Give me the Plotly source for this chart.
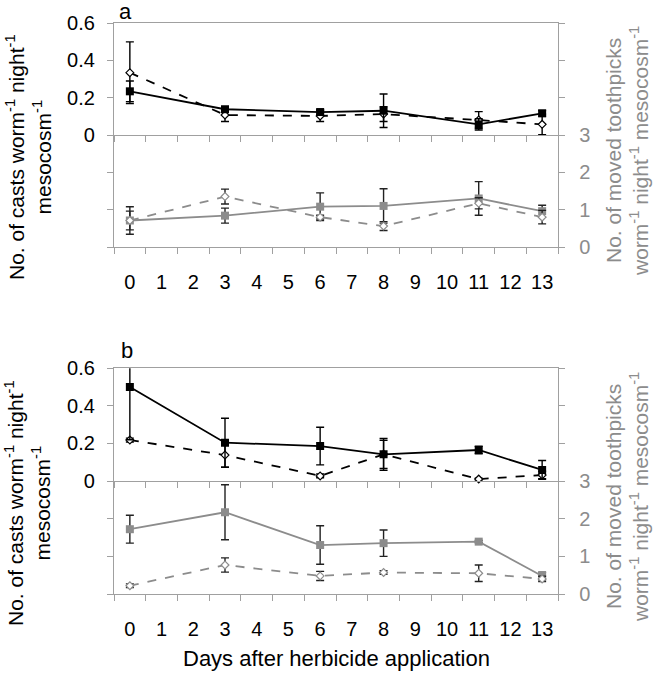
import plotly.graph_objects as go

# ---------------- data ----------------
days = ["0", "3", "6", "8", "11", "13"]
all_days = [str(d) for d in range(14)]

a_casts_ctrl = [0.234, 0.138, 0.123, 0.130, 0.057, 0.116]
a_casts_ctrl_err = [0.055, 0.012, 0.012, 0.090, 0.030, 0.015]
a_casts_herb = [0.334, 0.107, 0.102, 0.112, 0.080, 0.057]
a_casts_herb_err = [0.165, 0.035, 0.030, 0.040, 0.045, 0.055]
a_tooth_ctrl = [0.71, 0.84, 1.08, 1.10, 1.30, 0.96]
a_tooth_ctrl_err = [0.37, 0.20, 0.37, 0.46, 0.45, 0.16]
a_tooth_herb = [0.71, 1.35, 0.80, 0.56, 1.17, 0.80]
a_tooth_herb_err = [0.25, 0.20, 0.05, 0.12, 0.15, 0.18]

b_casts_ctrl = [0.500, 0.204, 0.186, 0.142, 0.165, 0.059]
b_casts_ctrl_err = [0.280, 0.130, 0.100, 0.085, 0.020, 0.050]
b_casts_herb = [0.218, 0.138, 0.027, 0.142, 0.010, 0.032]
b_casts_herb_err = [0.010, 0.065, 0.010, 0.075, 0.005, 0.020]
b_tooth_ctrl = [1.72, 2.17, 1.30, 1.35, 1.39, 0.48]
b_tooth_ctrl_err = [0.37, 0.73, 0.51, 0.35, 0.03, 0.10]
b_tooth_herb = [0.22, 0.77, 0.48, 0.57, 0.55, 0.40]
b_tooth_herb_err = [0.05, 0.19, 0.12, 0.05, 0.22, 0.07]

casts_tickvals = [0, 0.2, 0.4, 0.6]
casts_ticktext = ["0", "0.2", "0.4", "0.6"]
tooth_tickvals = [0, 1, 2, 3]
tooth_ticktext = ["0", "1", "2", "3"]

# ---------------- style ----------------
W, H = 658, 674
FONT = "Liberation Sans, Arial, sans-serif"
AXC = "#a0a0a0"
GRAY = "#8c8c8c"
XD = [114 / W, 558 / W]
A_TOP = [1 - 135 / H, 1 - 23 / H]
A_BOT = [1 - 247 / H, 1 - 135 / H]
B_TOP = [1 - 481 / H, 1 - 368.3 / H]
B_BOT = [1 - 594 / H, 1 - 481 / H]


def err(arr, color):
    return dict(type="data", array=arr, visible=True, color=color, thickness=1.4, width=4)


def series(x, y, e, xa, ya, kind, clip=False):
    if kind == "ctrl_black":
        line = dict(color="black", width=1.8)
        marker = dict(symbol="square", size=8, color="black")
        ec = "black"
    elif kind == "herb_black":
        line = dict(color="black", width=1.8, dash="dash")
        marker = dict(symbol="diamond", size=6, color="white", line=dict(color="black", width=1.2))
        ec = "black"
    elif kind == "ctrl_gray":
        line = dict(color=GRAY, width=1.8)
        marker = dict(symbol="square", size=8, color=GRAY)
        ec = "#222222"
    else:
        line = dict(color=GRAY, width=1.8, dash="dash")
        marker = dict(symbol="diamond", size=6, color="white", line=dict(color=GRAY, width=1.2))
        ec = "#222222"
    return go.Scatter(x=x, y=y, mode="lines+markers", line=line, marker=marker,
                      error_y=err(e, ec), xaxis=xa, yaxis=ya, showlegend=False,
                      cliponaxis=clip, hoverinfo="x+y")


fig = go.Figure()
# panel a
fig.add_trace(series(days, a_tooth_ctrl, a_tooth_ctrl_err, "x2", "y2", "ctrl_gray"))
fig.add_trace(series(days, a_tooth_herb, a_tooth_herb_err, "x2", "y2", "herb_gray"))
fig.add_trace(series(days, a_casts_herb, a_casts_herb_err, "x", "y", "herb_black"))
fig.add_trace(series(days, a_casts_ctrl, a_casts_ctrl_err, "x", "y", "ctrl_black"))
# panel b
fig.add_trace(series(days, b_tooth_ctrl, b_tooth_ctrl_err, "x4", "y4", "ctrl_gray"))
fig.add_trace(series(days, b_tooth_herb, b_tooth_herb_err, "x4", "y4", "herb_gray"))
fig.add_trace(series(days, b_casts_herb, b_casts_herb_err, "x3", "y3", "herb_black"))
fig.add_trace(series(days, b_casts_ctrl, b_casts_ctrl_err, "x3", "y3", "ctrl_black", clip=True))

xcommon = dict(type="category", categoryorder="array", categoryarray=all_days,
               range=[-0.5, 13.5], tickson="boundaries", ticks="outside", ticklen=6,
               tickcolor=AXC, showline=True, linecolor=AXC, linewidth=1.3,
               showgrid=False, zeroline=False, fixedrange=True, automargin=False,
               tickfont=dict(size=20, color="black", family=FONT))
ycommon = dict(showline=True, linecolor=AXC, linewidth=1.3, ticks="outside", ticklen=6,
               tickcolor=AXC, showgrid=False, zeroline=False, fixedrange=True,
               automargin=False, mirror="ticks")
casts_y = dict(ycommon, side="left", range=[0, 0.6], tickvals=casts_tickvals,
               ticktext=casts_ticktext, ticklabelstandoff=8,
               tickfont=dict(size=20, color="black", family=FONT))
tooth_y = dict(ycommon, side="right", range=[0, 3], tickvals=tooth_tickvals,
               ticktext=tooth_ticktext, ticklabelstandoff=10,
               tickfont=dict(size=20, color=GRAY, family=FONT))

fig.update_layout(
    template="none",
    width=W, height=H, margin=dict(l=0, r=0, t=0, b=0, autoexpand=False),
    paper_bgcolor="white", plot_bgcolor="white",
    font=dict(family=FONT, color="black"),
    xaxis=dict(xcommon, domain=XD, anchor="y", mirror=True, showticklabels=False),
    yaxis=dict(casts_y, domain=A_TOP, anchor="x"),
    xaxis2=dict(xcommon, domain=XD, anchor="y2", ticklabelstandoff=17),
    yaxis2=dict(tooth_y, domain=A_BOT, anchor="x2"),
    xaxis3=dict(xcommon, domain=XD, anchor="y3", mirror=True, showticklabels=False),
    yaxis3=dict(casts_y, domain=B_TOP, anchor="x3"),
    xaxis4=dict(xcommon, domain=XD, anchor="y4", ticklabelstandoff=17),
    yaxis4=dict(tooth_y, domain=B_BOT, anchor="x4"),
)

left_title = "No. of casts worm<sup>-1</sup> night<sup>-1</sup><br>mesocosm<sup>-1</sup>"
right_title = "No. of moved toothpicks<br>worm<sup>-1</sup> night<sup>-1</sup> mesocosm<sup>-1</sup>"


def ann(text, px, py, size, color="black", angle=0):
    fig.add_annotation(text=text, x=px / W, y=1 - py / H, xref="paper", yref="paper",
                       xanchor="center", yanchor="middle", showarrow=False, textangle=angle,
                       font=dict(size=size, color=color, family=FONT))


ann("a", 125, 12, 22)
ann("b", 127, 350, 22)
ann(left_title, 28, 157, 21, angle=-90)
ann(left_title, 28, 503, 21, angle=-90)
ann(right_title, 627, 151, 21, color=GRAY, angle=-90)
ann(right_title, 627, 497, 21, color=GRAY, angle=-90)
ann("Days after herbicide application", 336, 658, 22)

fig.write_html("out.html", config={"displayModeBar": False},
               post_script="document.body.style.margin='0px';document.body.style.overflow='hidden';")
